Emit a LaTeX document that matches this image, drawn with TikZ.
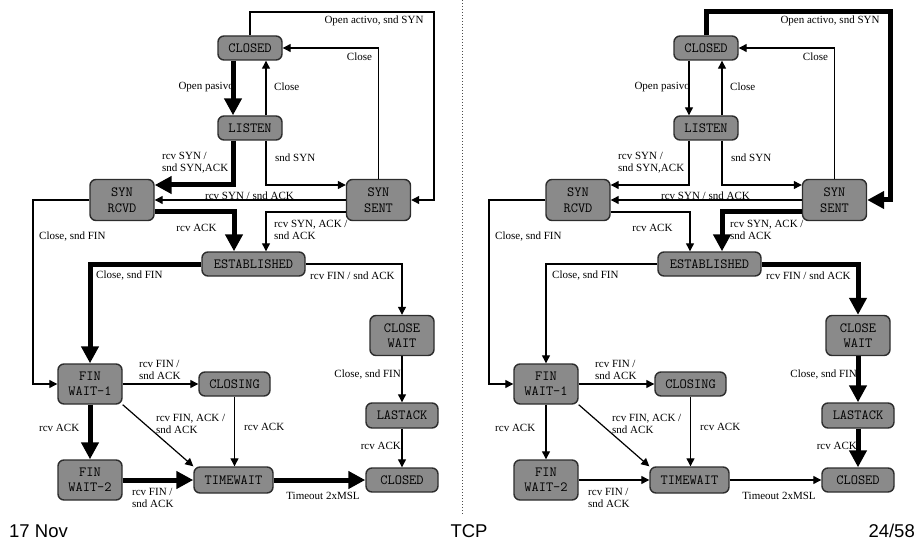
\documentclass[tikz,border=0pt]{standalone}
\usepackage{fontspec}
\setmainfont{Liberation Serif}
\setsansfont{Liberation Sans}
\usepackage{xcolor}
\usepackage{tikz}
\usetikzlibrary{positioning, arrows.meta}
\definecolor{stategray}{RGB}{138,138,138}
\definecolor{stateline}{RGB}{45,45,45}

\begin{document}
\begin{tikzpicture}[
    x=1pt, y=-1pt,
    state/.style={rectangle, draw=stateline, line width=1.4pt, fill=stategray, rounded corners=6pt, minimum width=64pt, minimum height=24pt, inner sep=0pt, align=center, font=\ttfamily\fontsize{14}{15.5}\selectfont},
    tall/.style={minimum height=40pt},
    arr/.style={-{Triangle[length=8pt, width=8pt]}, line width=1.2pt},
    thickarr/.style={-{Triangle[length=17pt, width=17pt]}, line width=5pt},
    lbl/.style={font=\fontsize{11}{12}\selectfont, inner sep=0pt, align=left},
    foot/.style={font=\sffamily\fontsize{18.5}{20}\selectfont, inner sep=0pt},
]
\useasboundingbox (0,0) rectangle (918,540);

% left: passive open
\node[state] (lclosed) at (250,48) {CLOSED};
\node[state] (llisten) at (250,128) {LISTEN};
\node[state, minimum height=41pt] (lsynrcvd) at (122,200) {SYN\\RCVD};
\node[state, minimum height=41pt] (lsynsent) at (378.5,200) {SYN\\SENT};
\node[state, minimum width=103pt] (lestab) at (253.5,264) {ESTABLISHED};
\node[state, tall] (lclosewait) at (402,335.5) {CLOSE\\WAIT};
\node[state, tall] (lfinwait1) at (90,384) {FIN\\WAIT-1};
\node[state, minimum width=71pt] (lclosing) at (234.5,384) {CLOSING};
\node[state, minimum width=72pt, minimum height=25pt] (llastack) at (402,415.5) {LASTACK};
\node[state, tall] (lfinwait2) at (90,480) {FIN\\WAIT-2};
\node[state, minimum width=79pt, minimum height=26pt] (ltimewait) at (233.5,480) {TIMEWAIT};
\node[state, minimum width=72pt] (lclosedb) at (402,480) {CLOSED};

\coordinate (ltop) at (434,12);
\coordinate (lside) at (33,384);

\draw[arr] (lclosed.north) |- (ltop) |- (lsynsent.east);
\draw[arr] (lsynsent.north) |- (lclosed.east);
\draw[thickarr] ([xshift=-17pt]lclosed.south) -- ([xshift=-17pt]llisten.north);
\draw[arr] ([xshift=16pt]llisten.north) -- ([xshift=16pt]lclosed.south);
\draw[thickarr] ([xshift=-17pt]llisten.south) |- ([yshift=15pt]lsynrcvd.east);
\draw[arr] ([xshift=16pt]llisten.south) |- ([yshift=15pt]lsynsent.west);
\draw[arr] (lsynsent.west) -- (lsynrcvd.east);
\draw[thickarr] ([yshift=-12pt]lsynrcvd.east) -| ([xshift=-19.5pt]lestab.north);
\draw[arr] ([yshift=-12pt]lsynsent.west) -| ([xshift=12.5pt]lestab.north);
\draw[arr] (lsynrcvd.west) -| (lside) -- (lfinwait1.west);
\draw[thickarr] (lestab.west) -| (lfinwait1.north);
\draw[arr] (lestab.east) -| (lclosewait.north);
\draw[arr] (lfinwait1.east) -- (lclosing.west);
\draw[arr] (lfinwait1.south east) -- (ltimewait.north west);
\draw[arr] (lclosing.south) -- (lclosing.south |- ltimewait.north);
\draw[thickarr] (lfinwait1.south) -- (lfinwait2.north);
\draw[thickarr] (lfinwait2.east) -- (ltimewait.west);
\draw[thickarr] (ltimewait.east) -- (lclosedb.west);
\draw[arr] (lclosewait.south) -- (llastack.north);
\draw[arr] (llastack.south) -- (lclosedb.north);

\node[lbl] (lopenact) at (374,21) {Open activo, snd SYN};
\node[lbl] (lclose1) at (359.5,57) {Close};
\node[lbl, anchor=east] (lopenpas) at (234,87) {Open pasivo};
\node[lbl, anchor=west] (lclose2) at (274,87) {Close};
\node[lbl, anchor=west] (lrcvsyn) at (162,163) {rcv SYN /\\snd SYN,ACK};
\node[lbl, anchor=west] (lsndsyn) at (275,158) {snd SYN};
\node[lbl] (lrcvsyn2) at (249.5,196) {rcv SYN / snd ACK};
\node[lbl] (lrcvack1) at (196.5,228) {rcv ACK};
\node[lbl, anchor=west] (lrcvsynack) at (274,230) {rcv SYN, ACK /\\snd ACK};
\node[lbl, anchor=west] (lclosefin1) at (39,237) {Close, snd FIN};
\node[lbl, anchor=west] (lclosefin2) at (96,276) {Close, snd FIN};
\node[lbl, anchor=west] (lrcvfin1) at (310,276) {rcv FIN / snd ACK};
\node[lbl, anchor=east] (lclosefin3) at (401,375) {Close, snd FIN};
\node[lbl, anchor=west] (lrcvfin2) at (139,369.5) {rcv FIN /\\snd ACK};
\node[lbl, anchor=west] (lrcvfinack) at (156,424) {rcv FIN, ACK /\\snd ACK};
\node[lbl, anchor=west] (lrcvack2) at (244,427) {rcv ACK};
\node[lbl, anchor=west] (lrcvack3) at (39,428) {rcv ACK};
\node[lbl, anchor=west] (lrcvfin3) at (132,497.5) {rcv FIN /\\snd ACK};
\node[lbl] (ltimeout) at (323,496) {Timeout 2xMSL};
\node[lbl, anchor=east] (lrcvack4) at (401,446) {rcv ACK};

% right: active open
\begin{scope}[xshift=456pt]
\node[state] (rclosed) at (250,48) {CLOSED};
\node[state] (rlisten) at (250,128) {LISTEN};
\node[state, minimum height=41pt] (rsynrcvd) at (122,200) {SYN\\RCVD};
\node[state, minimum height=41pt] (rsynsent) at (378.5,200) {SYN\\SENT};
\node[state, minimum width=103pt] (restab) at (253.5,264) {ESTABLISHED};
\node[state, tall] (rclosewait) at (402,335.5) {CLOSE\\WAIT};
\node[state, tall] (rfinwait1) at (90,384) {FIN\\WAIT-1};
\node[state, minimum width=71pt] (rclosing) at (234.5,384) {CLOSING};
\node[state, minimum width=72pt, minimum height=25pt] (rlastack) at (402,415.5) {LASTACK};
\node[state, tall] (rfinwait2) at (90,480) {FIN\\WAIT-2};
\node[state, minimum width=79pt, minimum height=26pt] (rtimewait) at (233.5,480) {TIMEWAIT};
\node[state, minimum width=72pt] (rclosedb) at (402,480) {CLOSED};

\coordinate (rtop) at (434,12);
\coordinate (rside) at (33,384);

\draw[thickarr] (rclosed.north) |- (rtop) |- (rsynsent.east);
\draw[arr] (rsynsent.north) |- (rclosed.east);
\draw[arr] ([xshift=-17pt]rclosed.south) -- ([xshift=-17pt]rlisten.north);
\draw[arr] ([xshift=16pt]rlisten.north) -- ([xshift=16pt]rclosed.south);
\draw[arr] ([xshift=-17pt]rlisten.south) |- ([yshift=15pt]rsynrcvd.east);
\draw[arr] ([xshift=16pt]rlisten.south) |- ([yshift=15pt]rsynsent.west);
\draw[arr] (rsynsent.west) -- (rsynrcvd.east);
\draw[arr] ([yshift=-12pt]rsynrcvd.east) -| ([xshift=-19.5pt]restab.north);
\draw[thickarr] ([yshift=-12pt]rsynsent.west) -| ([xshift=12.5pt]restab.north);
\draw[arr] (rsynrcvd.west) -| (rside) -- (rfinwait1.west);
\draw[arr] (restab.west) -| (rfinwait1.north);
\draw[thickarr] (restab.east) -| (rclosewait.north);
\draw[arr] (rfinwait1.east) -- (rclosing.west);
\draw[arr] (rfinwait1.south east) -- (rtimewait.north west);
\draw[arr] (rclosing.south) -- (rclosing.south |- rtimewait.north);
\draw[arr] (rfinwait1.south) -- (rfinwait2.north);
\draw[arr] (rfinwait2.east) -- (rtimewait.west);
\draw[arr] (rtimewait.east) -- (rclosedb.west);
\draw[thickarr] (rclosewait.south) -- (rlastack.north);
\draw[thickarr] (rlastack.south) -- (rclosedb.north);

\node[lbl] (ropenact) at (374,21) {Open activo, snd SYN};
\node[lbl] (rclose1) at (359.5,57) {Close};
\node[lbl, anchor=east] (ropenpas) at (234,87) {Open pasivo};
\node[lbl, anchor=west] (rclose2) at (274,87) {Close};
\node[lbl, anchor=west] (rrcvsyn) at (162,163) {rcv SYN /\\snd SYN,ACK};
\node[lbl, anchor=west] (rsndsyn) at (275,158) {snd SYN};
\node[lbl] (rrcvsyn2) at (249.5,196) {rcv SYN / snd ACK};
\node[lbl] (rrcvack1) at (196.5,228) {rcv ACK};
\node[lbl, anchor=west] (rrcvsynack) at (274,230) {rcv SYN, ACK /\\snd ACK};
\node[lbl, anchor=west] (rclosefin1) at (39,237) {Close, snd FIN};
\node[lbl, anchor=west] (rclosefin2) at (96,276) {Close, snd FIN};
\node[lbl, anchor=west] (rrcvfin1) at (310,276) {rcv FIN / snd ACK};
\node[lbl, anchor=east] (rclosefin3) at (401,375) {Close, snd FIN};
\node[lbl, anchor=west] (rrcvfin2) at (139,369.5) {rcv FIN /\\snd ACK};
\node[lbl, anchor=west] (rrcvfinack) at (156,424) {rcv FIN, ACK /\\snd ACK};
\node[lbl, anchor=west] (rrcvack2) at (244,427) {rcv ACK};
\node[lbl, anchor=west] (rrcvack3) at (39,428) {rcv ACK};
\node[lbl, anchor=west] (rrcvfin3) at (132,497.5) {rcv FIN /\\snd ACK};
\node[lbl] (rtimeout) at (323,496) {Timeout 2xMSL};
\node[lbl, anchor=east] (rrcvack4) at (401,446) {rcv ACK};
\end{scope}

\draw[dotted, line width=1pt, gray!60!black] (462,0) -- (462,515);

\node[foot, anchor=base west] (date) at (9,537) {17 Nov};
\node[foot, anchor=base] (title) at (469,537) {TCP};
\node[foot, anchor=base east] (page) at (915,537) {24/58};

\end{tikzpicture}
\end{document}
